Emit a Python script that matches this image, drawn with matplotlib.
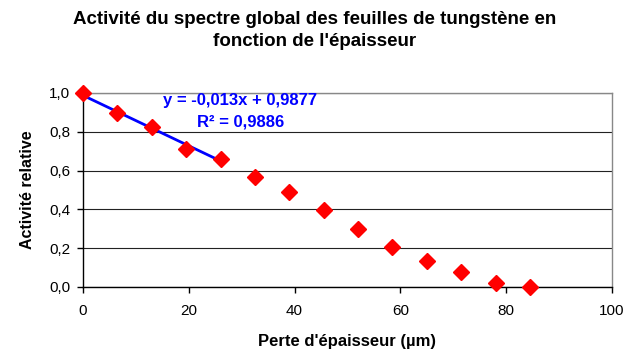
import numpy as np
import matplotlib
matplotlib.use('Agg')
import matplotlib.pyplot as plt
from matplotlib.ticker import FuncFormatter, MultipleLocator

plt.rcParams['font.family'] = ['Liberation Sans', 'DejaVu Sans']

# perte d'épaisseur (µm) et activité relative
perte = [0, 6.5, 13, 19.5, 26, 32.5, 39, 45.5, 52, 58.5, 65, 71.5, 78, 84.5]
activite = [1.0, 0.895, 0.825, 0.713, 0.662, 0.565, 0.49, 0.397, 0.30,
            0.205, 0.132, 0.076, 0.023, 0.0]

# régression linéaire sur les 5 premiers points
pente = -0.013
ordonnee = 0.9877
r2 = 0.9886
fit_x = [0, 26]

fig = plt.figure(figsize=(6.29, 3.54), dpi=100)
ax = fig.add_axes([83 / 629, 1 - 287 / 354, (612 - 83) / 629, (287 - 93) / 354])

fx = np.array(fit_x)
ax.plot(fx, pente * fx + ordonnee, color='#0000ff', lw=2, zorder=3)
ax.plot(perte, activite, ls='none', marker='D', ms=8.5, color='#ff0000',
        mec='#ff0000', clip_on=False, zorder=4)

ax.set_xlim(0, 100)
ax.set_ylim(0, 1.0)
ax.xaxis.set_major_locator(MultipleLocator(20))
ax.yaxis.set_major_locator(MultipleLocator(0.2))
ax.yaxis.set_major_formatter(FuncFormatter(lambda v, p: f'{v:.1f}'.replace('.', ',')))
ax.grid(axis='y', color='#222222', lw=0.8)
ax.set_axisbelow(True)

for s in ['top', 'right']:
    ax.spines[s].set_color('#888888')
    ax.spines[s].set_linewidth(1)
for s in ['left', 'bottom']:
    ax.spines[s].set_color('black')
    ax.spines[s].set_linewidth(1)
ax.tick_params(direction='out', length=4, width=1, labelsize=11)
ax.tick_params(axis='x', pad=8)
ax.tick_params(axis='y', pad=5)

eq = f'y = {pente:.3f}x + {ordonnee:.4f}'.replace('.', ',')
ax.text(0.297, 0.959, eq, transform=ax.transAxes, ha='center', va='center',
        color='#0000ff', fontsize=12, fontweight='bold')
ax.text(0.298, 0.85, f'R² = {r2:.4f}'.replace('.', ','), transform=ax.transAxes,
        ha='center', va='center', color='#0000ff', fontsize=12, fontweight='bold')

ax.set_xlabel("Perte d'épaisseur (µm)", fontsize=12, fontweight='bold', labelpad=12)
ax.set_ylabel('Activité relative', fontsize=11.5, fontweight='bold', labelpad=10)
fig.suptitle("Activité du spectre global des feuilles de tungstène en\nfonction de l'épaisseur",
             x=0.5, y=0.97, fontsize=13.5, fontweight='bold', linespacing=1.4)

fig.savefig('out.png', dpi=100)
